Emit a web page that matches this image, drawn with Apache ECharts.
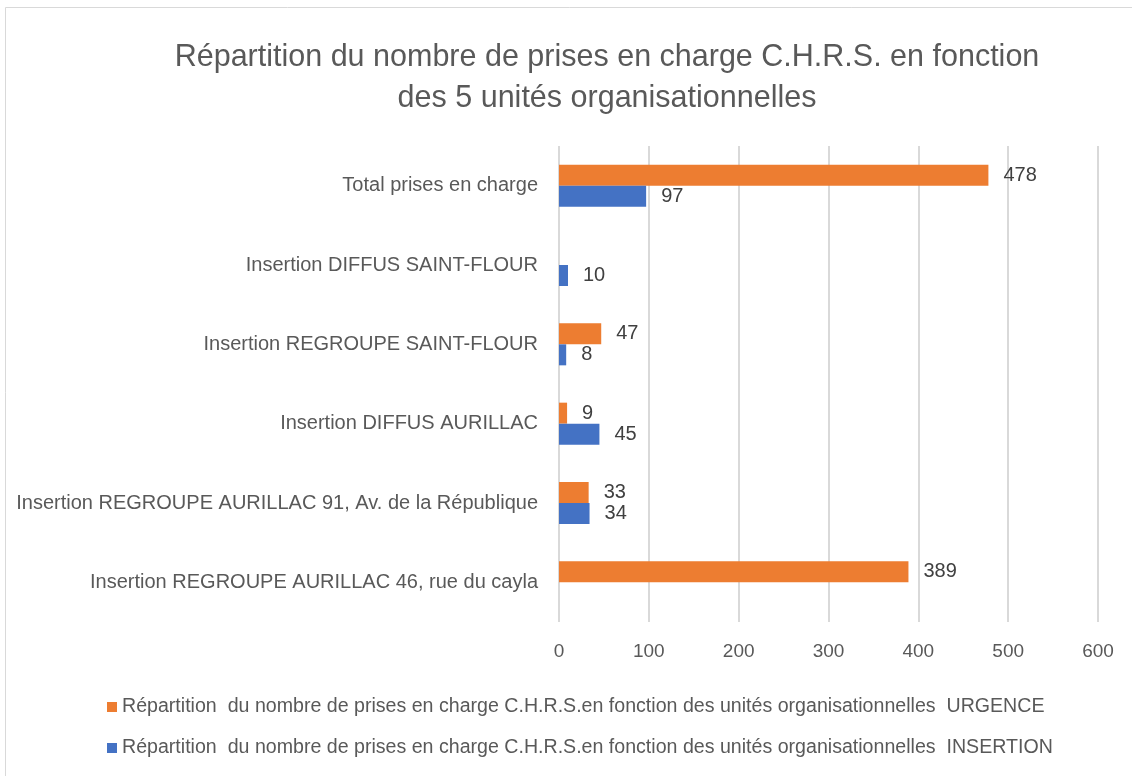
<!DOCTYPE html>
<html><head><meta charset="utf-8">
<script src="https://cdn.jsdelivr.net/npm/echarts@6/dist/echarts.min.js"></script>
<style>html,body{margin:0;padding:0;background:#fff}#c{width:1132px;height:776px}</style>
</head><body><div id="c"></div>
<script>
const categories = [
  "Insertion REGROUPE AURILLAC 46, rue du cayla",
  "Insertion REGROUPE AURILLAC 91, Av. de la République",
  "Insertion DIFFUS AURILLAC",
  "Insertion REGROUPE SAINT-FLOUR",
  "Insertion DIFFUS SAINT-FLOUR",
  "Total prises en charge"
];
const urgence = [389, 33, 9, 47, null, 478];
const insertion = [null, 34, 45, 8, 10, 97];
const seriesNames = [
  "Répartition  du nombre de prises en charge C.H.R.S.en fonction des unités organisationnelles  URGENCE",
  "Répartition  du nombre de prises en charge C.H.R.S.en fonction des unités organisationnelles  INSERTION"
];
const titleText = "Répartition du nombre de prises en charge C.H.R.S. en fonction\ndes 5 unités organisationnelles";

const FONT = "'Liberation Sans', Arial, sans-serif";
const chart = echarts.init(document.getElementById('c'));
const labelCfg = {show: true, position: 'right', distance: 15, color: '#404040', fontSize: 20, fontFamily: FONT};
chart.setOption({
  animation: false,
  textStyle: {fontFamily: FONT},
  graphic: [
    {type: 'rect', shape: {x: 5.5, y: 7.5, width: 1200, height: 900}, style: {fill: 'none', stroke: '#d9d9d9', lineWidth: 1}, silent: true},
    {type: 'text', x: 607, y: 78, style: {text: titleText, textAlign: 'center', textVerticalAlign: 'middle', fill: '#595959', fontSize: 30.5, lineHeight: 41, fontFamily: FONT}}
  ],
  legend: {
    orient: 'vertical', left: 102, top: 692, itemGap: 21, itemWidth: 10, itemHeight: 10,
    icon: 'rect', data: seriesNames,
    textStyle: {color: '#595959', fontSize: 19.6, fontFamily: FONT}
  },
  grid: {left: 559, right: 34, top: 146, bottom: 154},
  xAxis: {
    type: 'value', min: 0, max: 600, interval: 100,
    axisLine: {show: false}, axisTick: {show: false},
    splitLine: {lineStyle: {color: '#d9d9d9', width: 2}},
    axisLabel: {color: '#595959', fontSize: 19, margin: 20, fontFamily: FONT}
  },
  yAxis: {
    type: 'category', data: categories,
    axisLine: {show: false}, axisTick: {show: false},
    axisLabel: {color: '#595959', fontSize: 20, margin: 21, fontFamily: FONT}
  },
  series: [
    {name: seriesNames[0], type: 'bar', data: urgence, barWidth: 21, barGap: '0%', itemStyle: {color: '#ED7D31'}, label: labelCfg},
    {name: seriesNames[1], type: 'bar', data: insertion, barWidth: 21, barGap: '0%', itemStyle: {color: '#4472C4'}, label: labelCfg}
  ]
});
</script></body></html>
